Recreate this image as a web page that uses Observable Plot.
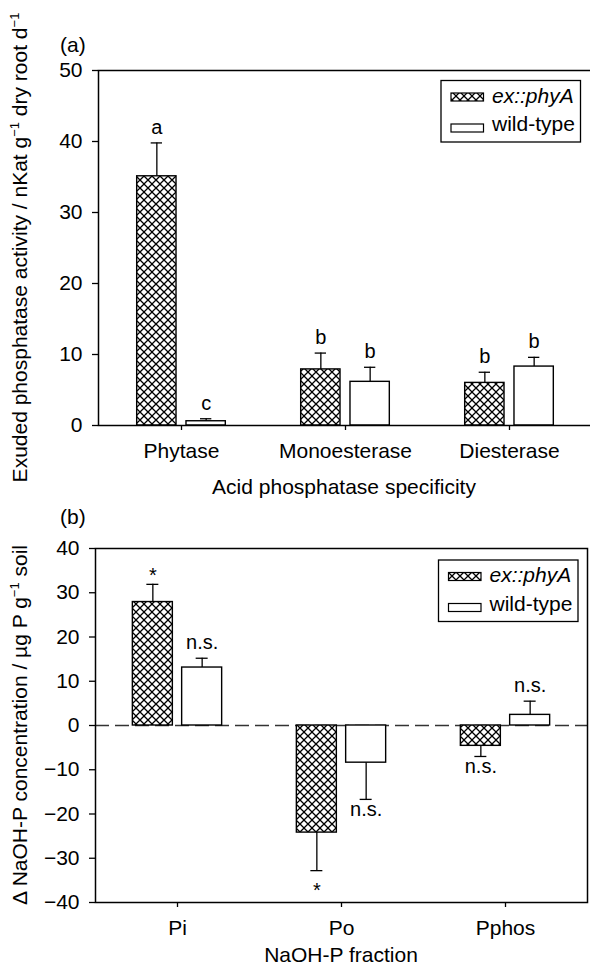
<!DOCTYPE html>
<html>
<head>
<meta charset="utf-8">
<script src="https://cdn.jsdelivr.net/npm/d3@7"></script>
<script src="https://cdn.jsdelivr.net/npm/@observablehq/plot@0.6"></script>
<style>
  html, body { margin: 0; padding: 0; background: #fff; }
  #chart { width: 590px; }
  #chart svg { display: block; overflow: visible; }
</style>
</head>
<body>
<svg width="0" height="0" style="position:absolute">
  <defs>
    <pattern id="xhatch" patternUnits="userSpaceOnUse" width="8" height="8">
      <rect width="8" height="8" fill="white"></rect>
      <path d="M-2,-2L10,10M10,-2L-2,10" stroke="black" stroke-width="1.3"></path>
    </pattern>
  </defs>
</svg>
<div id="chart"></div>
<script>
const FONT = "'Liberation Sans', Arial, Helvetica, sans-serif";

// ---- Panel (a) data ----
const specificity = ["Phytase", "Monoesterase", "Diesterase"];
const genotypes = ["ex::phyA", "wild-type"];
const activityEx = [35.1, 7.9, 6.0];
const activityExSE = [4.7, 2.3, 1.5];
const activityWt = [0.6, 6.15, 8.3];
const activityWtSE = [0.35, 2.05, 1.3];
const lettersEx = ["a", "b", "b"];
const lettersWt = ["c", "b", "b"];
const activityTicks = [0, 10, 20, 30, 40, 50];

// ---- Panel (b) data ----
const fractions = ["Pi", "Po", "Pphos"];
const deltaEx = [27.9, -24.2, -4.6];
const deltaExSE = [4.0, 8.6, 2.4];
const deltaWt = [13.1, -8.4, 2.4];
const deltaWtSE = [2.1, 8.3, 3.1];
const signifEx = ["*", "*", "n.s."];
const signifWt = ["n.s.", "n.s.", "n.s."];
const deltaTicks = [-40, -30, -20, -10, 0, 10, 20, 30, 40];

function rows(cats, ex, exSE, wt, wtSE, labEx, labWt) {
  return cats.flatMap((c, i) => [
    {cat: c, g: genotypes[0], v: ex[i], se: exSE[i], lab: labEx[i]},
    {cat: c, g: genotypes[1], v: wt[i], se: wtSE[i], lab: labWt[i]}
  ]).map(d => ({...d, end: d.v + Math.sign(d.v) * d.se}));
}

function panel({data, cats, yDomain, yTicks, height, mt, mb, ml, mr, zero}) {
  const W = 590;
  const bw = (W - ml - mr) / cats.length;
  const half = bw / 2;
  const barW = 40, gap = 9.3;
  const dxs = [-(gap / 2 + barW / 2), gap / 2 + barW / 2];
  const marks = [];
  if (zero) marks.push(Plot.ruleY([0], {stroke: "#333", strokeWidth: 1.3, strokeDasharray: "14,6"}));
  genotypes.forEach((g, gi) => {
    const sub = data.filter(d => d.g === g);
    const dx = dxs[gi];
    marks.push(Plot.barY(sub, {
      x: "cat", y: "v",
      fill: gi === 0 ? "url(#xhatch)" : "white",
      stroke: "black", strokeWidth: 1.4,
      insetLeft: half + dx - barW / 2, insetRight: half - dx - barW / 2
    }));
    marks.push(Plot.ruleX(sub, {x: "cat", y1: "v", y2: "end", dx, stroke: "black", strokeWidth: 1.3}));
    marks.push(Plot.tickY(sub, {x: "cat", y: "end", stroke: "black", strokeWidth: 1.3,
      insetLeft: half + dx - 6, insetRight: half - dx - 6}));
    const pos = sub.filter(d => d.v >= 0), neg = sub.filter(d => d.v < 0);
    const common = {x: "cat", text: "lab", dx, fontSize: 20, fill: "black", textAnchor: "middle"};
    marks.push(Plot.text(pos.filter(d => d.lab !== "*"), {...common, y: "end", lineAnchor: "bottom", dy: -9}));
    marks.push(Plot.text(pos.filter(d => d.lab === "*"), {...common, y: "end", lineAnchor: "bottom", dy: -2}));
    marks.push(Plot.text(neg.filter(d => d.lab !== "*"), {...common, y: "end", lineAnchor: "top", dy: 2}));
    marks.push(Plot.text(neg.filter(d => d.lab === "*"), {...common, y: "end", lineAnchor: "top", dy: 12}));
  });
  marks.push(Plot.frame({stroke: "black", strokeWidth: 1.5}));
  marks.push(Plot.axisY({ticks: yTicks, tickSize: 6, tickPadding: 10, fontSize: 21, label: null, strokeWidth: 1.3}));
  marks.push(Plot.axisX({tickSize: 5, tickPadding: 13, fontSize: 21, label: null, strokeWidth: 1.3}));
  return Plot.plot({
    width: W, height,
    marginTop: mt, marginBottom: mb, marginLeft: ml, marginRight: mr,
    style: {fontFamily: FONT, fontSize: "21px", color: "black", background: "white"},
    x: {domain: cats, type: "band", padding: 0},
    y: {domain: yDomain},
    marks
  });
}

function legend(svg, x, y) {
  const g = d3.select(svg).append("g").attr("font-family", FONT).attr("font-size", 21)
    .attr("text-anchor", "start");
  g.append("rect").attr("x", x).attr("y", y).attr("width", 139.5).attr("height", 61.5)
    .attr("fill", "white").attr("stroke", "black").attr("stroke-width", 1.3);
  g.append("rect").attr("x", x + 10).attr("y", y + 12.5).attr("width", 32.5).attr("height", 8)
    .attr("fill", "url(#xhatch)").attr("stroke", "black").attr("stroke-width", 1.2);
  g.append("text").attr("x", x + 51).attr("y", y + 22).attr("text-anchor", "start")
    .attr("font-style", "italic").text(genotypes[0]);
  g.append("rect").attr("x", x + 10).attr("y", y + 43.5).attr("width", 32.5).attr("height", 8)
    .attr("fill", "white").attr("stroke", "black").attr("stroke-width", 1.2);
  g.append("text").attr("x", x + 51).attr("y", y + 50.5).attr("text-anchor", "start").text(genotypes[1]);
}

function addText(svg, x, y, parts, opts = {}) {
  const size = opts.size || 21;
  const t = d3.select(svg).append("text")
    .attr("font-family", FONT).attr("font-size", size).attr("fill", "black")
    .attr("text-anchor", opts.anchor || "middle")
    .attr("transform", `translate(${x},${y})` + (opts.rotate ? ` rotate(${opts.rotate})` : ""));
  let raised = false;
  parts.forEach(p => {
    if (typeof p === "string") {
      const s = t.append("tspan").attr("font-size", size).text(p);
      if (raised) { s.attr("dy", 8); raised = false; }
    } else {
      t.append("tspan").attr("font-size", 13).attr("dy", -8).text(p.sup);
      raised = true;
    }
  });
  return t;
}

const chart = document.getElementById("chart");

// Panel (a)
const dataA = rows(specificity, activityEx, activityExSE, activityWt, activityWtSE, lettersEx, lettersWt);
const svgA = panel({data: dataA, cats: specificity, yDomain: [0, 50], yTicks: activityTicks,
  height: 500, mt: 70, mb: 75, ml: 98, mr: -2, zero: false});
chart.appendChild(svgA);
legend(svgA, 441, 80.5);
addText(svgA, 60, 52, ["(a)"], {anchor: "start"});
addText(svgA, 344, 494, ["Acid phosphatase specificity"]);
addText(svgA, 27, 247.5, ["Exuded phosphatase activity / nKat g", {sup: "\u22121"}, " dry root d", {sup: "\u22121"}], {rotate: -90});

// Panel (b)
const dataB = rows(fractions, deltaEx, deltaExSE, deltaWt, deltaWtSE, signifEx, signifWt);
const svgB = panel({data: dataB, cats: fractions, yDomain: [-40, 40], yTicks: deltaTicks,
  height: 467, mt: 48, mb: 65, ml: 95, mr: 3, zero: true});
chart.appendChild(svgB);
legend(svgB, 438.5, 60);
addText(svgB, 60, 24, ["(b)"], {anchor: "start"});
addText(svgB, 341, 462, ["NaOH-P fraction"]);
addText(svgB, 27, 225, ["\u0394 NaOH-P concentration / \u00b5g P g", {sup: "\u22121"}, " soil"], {rotate: -90});
</script>
</body>
</html>
